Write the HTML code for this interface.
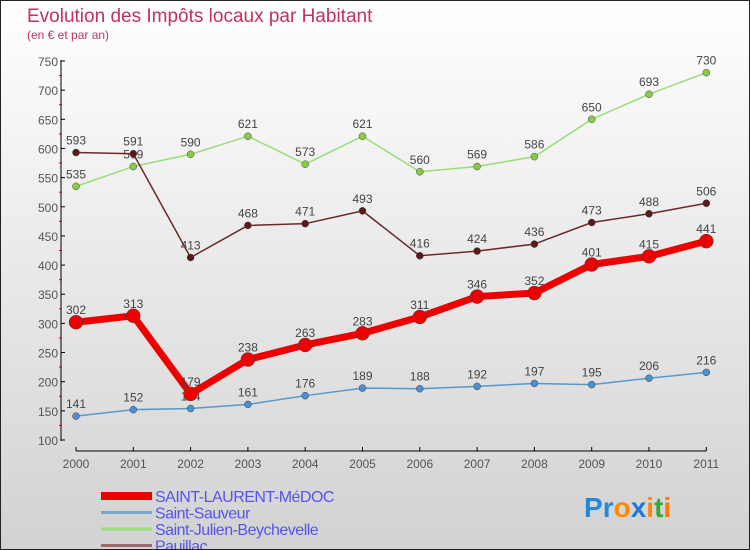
<!DOCTYPE html>
<html><head><meta charset="utf-8"><style>
body{margin:0}
#c{width:748px;height:548px;border:1px solid #222;background:linear-gradient(#ffffff,#d2d2d2);position:relative;overflow:hidden;font-family:"Liberation Sans",sans-serif}
</style></head><body>
<div id="c">
<svg id="s" width="748" height="548"></svg>
</div>
<script>
const years=[2000,2001,2002,2003,2004,2005,2006,2007,2008,2009,2010,2011];
const yTicks=[100,150,200,250,300,350,400,450,500,550,600,650,700,750];
const stLaurent=[302,313,179,238,263,283,311,346,352,401,415,441];
const stSauveur=[141,152,154,161,176,189,188,192,197,195,206,216];
const stJulien=[535,569,590,621,573,621,560,569,586,650,693,730];
const pauillac=[593,591,413,468,471,493,416,424,436,473,488,506];
const seriesNames=["SAINT-LAURENT-MéDOC","Saint-Sauveur","Saint-Julien-Beychevelle","Pauillac"];

const NS="http://www.w3.org/2000/svg",svg=document.getElementById('s');
const X=i=>75+i*57.3, Y=v=>439-(v-100)*(379/650);
function el(t,a,p){const e=document.createElementNS(NS,t);for(const k in a)e.setAttribute(k,a[k]);(p||svg).appendChild(e);return e;}
function txt(x,y,s,a){const e=el('text',Object.assign({x:x,y:y},a));e.textContent=s;return e;}

let t=txt(26,21,"Evolution des Impôts locaux par Habitant",{fill:"#c0325f","font-size":19});

t=txt(26,38,"(en € et par an)",{fill:"#c0325f","font-size":12});


// y axis
let a=el('line',{x1:60,y1:59,x2:60,y2:440,stroke:"#000"});

yTicks.forEach((v,i)=>{
 el('line',{x1:60,y1:Y(v),x2:64,y2:Y(v),stroke:"#000"});
 if(i<yTicks.length-1) el('line',{x1:58,y1:Y(v+25),x2:61,y2:Y(v+25),stroke:"#d00"});
 const l=txt(57,Y(v)+5,v,{fill:"#555","font-size":12,"text-anchor":"end"});
 
});
// x axis
a=el('line',{x1:X(0),y1:450,x2:X(11),y2:450,stroke:"#000"});

years.forEach((y,i)=>{
 el('line',{x1:X(i),y1:446,x2:X(i),y2:450,stroke:"#000"});
 const l=txt(X(i),467,y,{fill:"#555","font-size":12,"text-anchor":"middle"});
 
});

function series(data,color,w,r,dot,name){
 const g=el('g',{});
 
 el('polyline',{points:data.map((v,i)=>X(i)+","+Y(v)).join(" "),fill:"none",stroke:color,"stroke-width":w,"stroke-linejoin":"round"},g);
 data.forEach((v,i)=>{
  const c=el('circle',{cx:X(i),cy:Y(v),r:r,fill:dot,stroke:"#444","stroke-width":0.5},g);
  
  const l=txt(X(i),Y(v)-8,v,{fill:"#444","font-size":12,"text-anchor":"middle"},g);
  
 });
}
series(stJulien,"#99dd77",1.5,3.5,"#88cc44","saint-julien-series");
series(pauillac,"#6b2a2a",1.5,3.5,"#5a1a1a","pauillac-series");
series(stSauveur,"#5599cc",1.5,3.5,"#4a90d0","saint-sauveur-series");
series(stLaurent,"#ee0000",7,7,"#ee0000","saint-laurent-series");

// legend
const lc=["#ee0000","#7aa8cc","#99dd77","#9a6a6a"],lw=[8,3,3,3];
seriesNames.forEach((n,i)=>{
 const y=495+i*16.5;
 const g=el('g',{});
 el('line',{x1:100,y1:y,x2:151,y2:y,stroke:lc[i],"stroke-width":lw[i]},g);
 txt(154,y+6,n,{fill:"#5555ee","font-size":16,"letter-spacing":"-0.5"},g);
});
const lg=el('text',{x:583,y:516,"font-size":28,"font-weight":"bold"});

[["P","#2288dd"],["r","#2288dd"],["o","#ff8800"],["x","#2277dd"],["i","#ff8800"],["t","#33aa33"],["i","#ff7700"]].forEach(([c,f])=>{const s=el('tspan',{fill:f},lg);s.textContent=c;});
</script>
</body></html>
